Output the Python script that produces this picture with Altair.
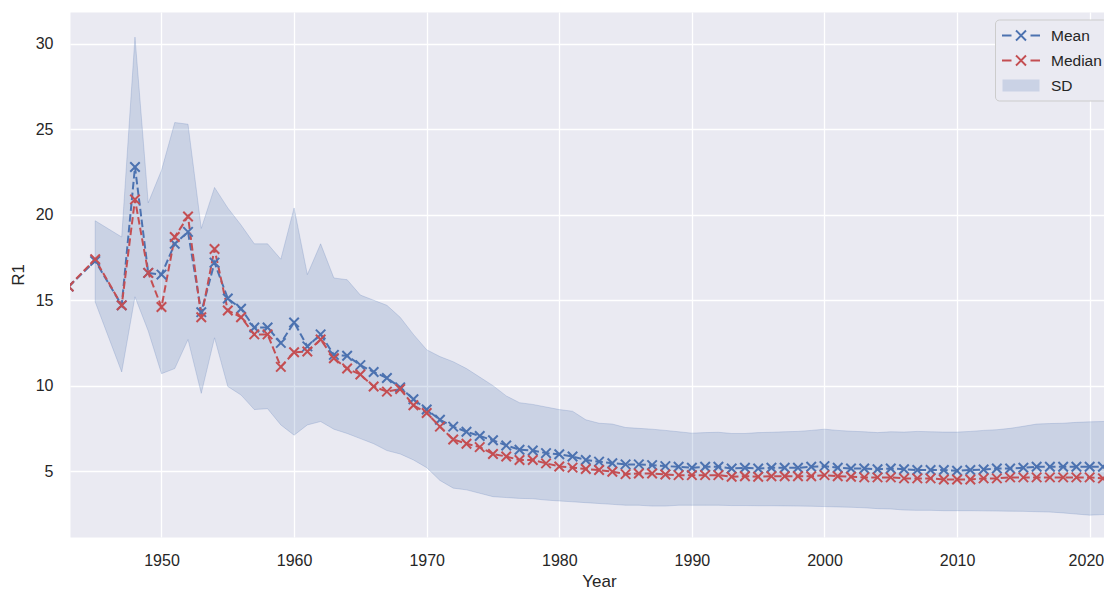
import altair as alt
import pandas as pd

# ---------------- data ----------------
years = [1943, 1945, 1947] + list(range(1948, 2023))

mean = [
    15.8, 17.3, 14.7,
    22.8, 16.6, 16.5, 18.3, 19.0, 14.3, 17.2, 15.1, 14.5, 13.4,   # 1948-1957
    13.4, 12.5, 13.7, 12.3, 13.0, 11.8, 11.75, 11.2, 10.8, 10.45,  # 1958-1967
    9.9, 9.2, 8.6, 8.0, 7.6, 7.3, 7.05, 6.8, 6.5, 6.25,            # 1968-1977
    6.2, 6.05, 5.98, 5.85, 5.65, 5.55, 5.46, 5.39, 5.39, 5.35,     # 1978-1987
    5.29, 5.25, 5.19, 5.25, 5.25, 5.15, 5.19, 5.15, 5.19, 5.19,    # 1988-1997
    5.19, 5.25, 5.29, 5.19, 5.15, 5.15, 5.11, 5.15, 5.11, 5.06,    # 1998-2007
    5.06, 5.06, 5.02, 5.06, 5.09, 5.15, 5.15, 5.19, 5.25, 5.25,    # 2008-2017
    5.25, 5.25, 5.25, 5.25, 5.25,                                  # 2018-2022
]

median = [
    15.8, 17.4, 14.7,
    20.9, 16.6, 14.6, 18.7, 19.9, 14.0, 18.0, 14.4, 14.0, 13.0,   # 1948-1957
    13.0, 11.1, 11.95, 12.0, 12.7, 11.6, 11.0, 10.65, 9.95, 9.65,  # 1958-1967
    9.8, 8.85, 8.4, 7.6, 6.85, 6.6, 6.4, 6.0, 5.85, 5.65,          # 1968-1977
    5.65, 5.45, 5.27, 5.2, 5.12, 5.06, 4.96, 4.82, 4.86, 4.86,     # 1978-1987
    4.80, 4.76, 4.76, 4.76, 4.76, 4.67, 4.70, 4.67, 4.70, 4.70,    # 1988-1997
    4.70, 4.70, 4.76, 4.70, 4.67, 4.63, 4.63, 4.63, 4.57, 4.57,    # 1998-2007
    4.57, 4.51, 4.51, 4.51, 4.57, 4.57, 4.63, 4.63, 4.63, 4.63,    # 2008-2017
    4.63, 4.63, 4.63, 4.57, 4.57,                                  # 2018-2022
]

sd_years = [1945, 1947] + list(range(1948, 2023))

sd_hi = [
    19.65, 18.7,
    30.4, 20.7, 22.6, 25.4, 25.3, 19.2, 21.6, 20.4, 19.4, 18.3,    # 1948-1957
    18.3, 17.4, 20.4, 16.5, 18.3, 16.3, 16.2, 15.3, 15.0, 14.7,    # 1958-1967
    14.0, 13.0, 12.1, 11.7, 11.4, 11.0, 10.5, 10.0, 9.4, 9.0,      # 1968-1977
    8.9, 8.75, 8.6, 8.5, 8.0, 7.8, 7.75, 7.55, 7.5, 7.45,          # 1978-1987
    7.38, 7.3, 7.22, 7.25, 7.27, 7.2, 7.2, 7.25, 7.27, 7.3,        # 1988-1997
    7.32, 7.38, 7.45, 7.38, 7.33, 7.3, 7.25, 7.3, 7.28, 7.32,      # 1998-2007
    7.3, 7.28, 7.28, 7.32, 7.38, 7.42, 7.5, 7.62, 7.75, 7.78,      # 2008-2017
    7.8, 7.85, 7.88, 7.9, 7.93,                                    # 2018-2022
]

sd_lo = [
    14.9, 10.8,
    15.2, 13.2, 10.7, 11.0, 12.7, 9.55, 12.8, 9.95, 9.45, 8.6,     # 1948-1957
    8.65, 7.7, 7.1, 7.7, 7.9, 7.45, 7.2, 6.9, 6.6, 6.2,            # 1958-1967
    6.0, 5.65, 5.2, 4.45, 4.0, 3.9, 3.7, 3.5, 3.45, 3.4,           # 1968-1977
    3.38, 3.3, 3.25, 3.2, 3.15, 3.1, 3.05, 3.0, 3.0, 2.95,         # 1978-1987
    2.95, 3.0, 3.0, 3.0, 3.0, 2.98, 2.98, 2.97, 2.97, 2.96,        # 1988-1997
    2.95, 2.94, 2.92, 2.9, 2.88, 2.85, 2.8, 2.78, 2.72, 2.7,       # 1998-2007
    2.7, 2.68, 2.68, 2.68, 2.67, 2.66, 2.65, 2.64, 2.62, 2.6,      # 2008-2017
    2.55, 2.48, 2.42, 2.45, 2.5,                                   # 2018-2022
]

series_names = ["Mean", "Median", "SD"]
x_ticks = [1950, 1960, 1970, 1980, 1990, 2000, 2010, 2020]
y_ticks = [5, 10, 15, 20, 25, 30]

# ---------------- tables ----------------
lines_df = pd.concat([
    pd.DataFrame({"year": years, "value": mean, "series": "Mean"}),
    pd.DataFrame({"year": years, "value": median, "series": "Median"}),
], ignore_index=True)
band_df = pd.DataFrame({"year": sd_years, "lo": sd_lo, "hi": sd_hi})

BLUE = "#4c72b0"
RED = "#c44e52"
FONT = "Liberation Sans"
TXT = "#262626"

XMARK = "M-1,-1L1,1M-1,1L1,-1"
LEG_LINE = "M-1.9,0H-0.95M0.95,0H1.9M-0.5,-0.5L0.5,0.5M-0.5,0.5L0.5,-0.5"
LEG_RECT = "M-1.85,-0.6H1.85V0.6H-1.85Z"

x_scale = alt.Scale(domain=[1943.1, 2021.08], nice=False, zero=False)
y_scale = alt.Scale(domain=[1.14, 31.87], nice=False, zero=False)
x_axis = alt.Axis(values=x_ticks, format="d", title="Year", labelPadding=15,
                  labelFlush=20, labelFlushOffset=14,
                  titlePadding=5, titleX=529)
y_axis = alt.Axis(values=y_ticks, title="R1", labelPadding=17, titlePadding=8)

legend = alt.Legend(
    title=None, orient="none", legendX=925, legendY=7.5,
    symbolType=alt.ExprRef(expr=f"datum.value === 'SD' ? '{LEG_RECT}' : '{LEG_LINE}'"),
    symbolFillColor=alt.ExprRef(expr="datum.value === 'SD' ? '#cad2e5' : 'transparent'"),
    symbolSize=400, symbolStrokeWidth=1.9, symbolOpacity=1,
    symbolOffset=10, labelOffset=19,
    labelFont=FONT, labelFontSize=15.5, labelColor=TXT,
    fillColor="#eaeaf2", strokeColor="#cccccc", cornerRadius=4,
    padding=5, rowPadding=5,
)

band = alt.Chart(band_df).mark_area(
    color=BLUE, fillOpacity=0.2, stroke=BLUE, strokeOpacity=0.22, strokeWidth=1, clip=True
).encode(
    x=alt.X("year:Q", scale=x_scale, axis=x_axis),
    y=alt.Y("hi:Q", scale=y_scale, axis=y_axis),
    y2="lo:Q",
)

lines = alt.Chart(lines_df).mark_line(
    strokeWidth=2, strokeDash=[7.5, 3.3], clip=True
).encode(
    x=alt.X("year:Q", scale=x_scale, axis=x_axis),
    y=alt.Y("value:Q", scale=y_scale, axis=y_axis),
    stroke=alt.Stroke("series:N",
                      scale=alt.Scale(domain=series_names, range=[BLUE, RED, "transparent"]),
                      legend=legend),
)

points = alt.Chart(lines_df).mark_point(
    shape=XMARK, size=90, filled=False, strokeWidth=2, opacity=1, clip=True
).encode(
    x=alt.X("year:Q", scale=x_scale, axis=x_axis),
    y=alt.Y("value:Q", scale=y_scale, axis=y_axis),
    color=alt.Color("series:N",
                    scale=alt.Scale(domain=["Mean", "Median"], range=[BLUE, RED]),
                    legend=None),
)

chart = alt.layer(band, lines, points).properties(
    width=1034, height=525,
    autosize=alt.AutoSizeParams(type="none"),
    padding={"left": 62, "top": 4, "right": 0, "bottom": 52},
).configure(
    background="white",
).configure_view(
    fill="#eaeaf2", stroke="transparent",
).configure_axis(
    labelFont=FONT, labelFontSize=16, labelColor=TXT,
    titleFont=FONT, titleFontSize=17, titleColor=TXT, titleFontWeight="normal",
    domain=False, ticks=False, grid=True, gridColor="white", gridWidth=1.3,
)

chart.save("out.html", embed_options={"renderer": "svg", "actions": False})
